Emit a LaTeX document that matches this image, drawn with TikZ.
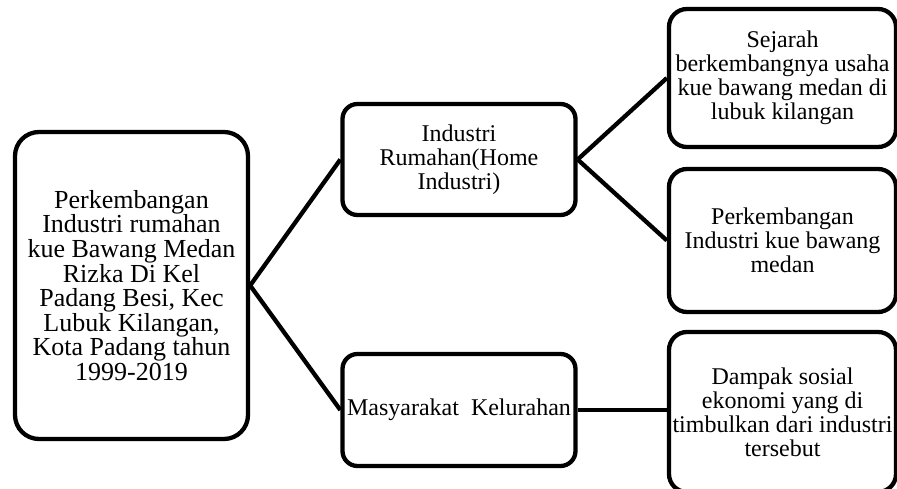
\documentclass[tikz,border=0pt]{standalone}
\usepackage{fontspec}
\setmainfont{Liberation Serif}

\begin{document}
\begin{tikzpicture}[x=1pt, y=-1pt,
  kotak/.style={draw, line width=4.3pt, rounded corners=#1, align=center,
    inner sep=2pt, font=\fontsize{24pt}{24pt}\selectfont},
  kotak/.default=18pt,
  garis/.style={line width=4.3pt}]
  \useasboundingbox (0,0) rectangle (897,489);

  % kotak utama
  \node[kotak=24pt, minimum width=233pt, minimum height=307pt,
    font=\fontsize{26pt}{24.6pt}\selectfont] (utama) at (131.5,285.5)
    {Perkembangan\\Industri rumahan\\kue Bawang Medan\\Rizka Di Kel\\Padang Besi, Kec\\Lubuk Kilangan,\\Kota Padang tahun\\1999-2019};

  % kotak tengah
  \node[kotak=15pt, minimum width=233pt, minimum height=111pt] (rumahan) at (459,159.5)
    {Industri\\Rumahan(Home\\Industri)};
  \node[kotak=15pt, minimum width=233pt, minimum height=112pt] (masyarakat) at (459,410)
    {Masyarakat\ \ Kelurahan};

  % kotak kanan
  \node[kotak, minimum width=227pt, minimum height=138pt] (sejarah) at (782.5,78)
    {Sejarah\\berkembangnya usaha\\kue bawang medan di\\lubuk kilangan};
  \node[kotak, minimum width=227pt, minimum height=143pt] (kembang) at (782.5,240.5)
    {Perkembangan\\Industri kue bawang\\medan};
  \node[kotak, minimum width=227pt, minimum height=160pt] (dampak) at (782.5,412)
    {Dampak sosial\\ekonomi yang di\\timbulkan dari industri\\tersebut};

  % garis penghubung
  \draw[garis] (utama.east) -- (rumahan.west);
  \draw[garis] (utama.east) -- (masyarakat.west);
  \draw[garis] (rumahan.east) -- (sejarah.west);
  \draw[garis] (rumahan.east) -- (kembang.west);
  \draw[garis] (masyarakat.east) -- (dampak.west |- masyarakat.east);
\end{tikzpicture}
\end{document}
